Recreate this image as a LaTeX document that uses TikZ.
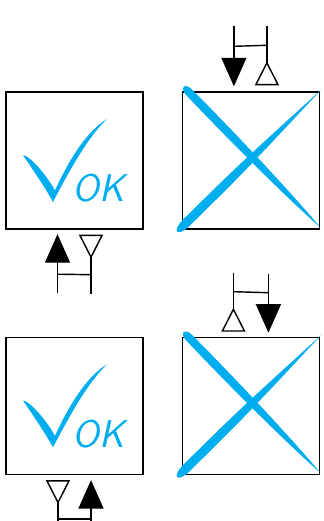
\documentclass[tikz,border=0pt]{standalone}
\usepackage{tikz}
\usetikzlibrary{positioning,arrows.meta}

\definecolor{okblue}{RGB}{0,174,239}

\begin{document}
\begin{tikzpicture}[
	box/.style={draw, line width=0.8pt, minimum size=2.74cm, inner sep=0},
	flow/.style={line width=0.8pt},
	feed/.style={-{Triangle[width=0.5cm,length=0.57cm]}},
	back/.style={-{Triangle[open,reversed,width=0.48cm,length=0.48cm]}},
	oktext/.style={text=okblue, inner sep=0, font=\sffamily\itshape\fontsize{22}{22}\selectfont}]
		
		\useasboundingbox (0,0) rectangle (6.48,-10.42);
		\clip (0,0) rectangle (6.48,-10.42);
		
		% Boxes
		\node[box] (okA) at (1.49,-3.21) {};
		\node[box, right=0.76cm of okA] (crossA) {};
		\node[box, below=2.14cm of okA] (okB) {};
		\node[box, right=0.76cm of okB] (crossB) {};
		
		% Ports
		\coordinate (okA-feed) at ([xshift=-0.34cm,yshift=-0.09cm]okA.south);
		\coordinate (okA-back) at ([xshift=0.33cm,yshift=-0.1cm]okA.south);
		\coordinate (okA-feed0) at ([yshift=-1.18cm]okA-feed);
		\coordinate (okA-back0) at ([yshift=-1.18cm]okA-back);
		
		\coordinate (crossA-feed) at ([xshift=-0.34cm,yshift=0.1cm]crossA.north);
		\coordinate (crossA-back) at ([xshift=0.32cm,yshift=0.12cm]crossA.north);
		\coordinate (crossA-feed0) at ([yshift=1.2cm]crossA-feed);
		\coordinate (crossA-back0) at ([yshift=1.18cm]crossA-back);
		
		\coordinate (okB-back) at ([xshift=-0.33cm,yshift=-0.1cm]okB.south);
		\coordinate (okB-feed) at ([xshift=0.33cm,yshift=-0.1cm]okB.south);
		\coordinate (okB-back0) at ([yshift=-1.18cm]okB-back);
		\coordinate (okB-feed0) at ([yshift=-1.18cm]okB-feed);
		
		\coordinate (crossB-back) at ([xshift=-0.35cm,yshift=0.1cm]crossB.north);
		\coordinate (crossB-feed) at ([xshift=0.35cm,yshift=0.08cm]crossB.north);
		\coordinate (crossB-back0) at ([yshift=1.18cm]crossB-back);
		\coordinate (crossB-feed0) at ([yshift=1.18cm]crossB-feed);
		
		% Lines
		\draw[flow,feed] (okA-feed0) -- (okA-feed);
		\draw[flow,back] (okA-back0) -- (okA-back);
		\draw[flow] ([yshift=0.38cm]okA-feed0) -- ([yshift=0.38cm]okA-back0);
		
		\draw[flow,feed] (crossA-feed0) -- (crossA-feed);
		\draw[flow,back] (crossA-back0) -- (crossA-back);
		\draw[flow] ([yshift=-0.4cm]crossA-feed0) -- ([yshift=-0.38cm]crossA-back0);
		
		\draw[flow,back] (okB-back0) -- (okB-back);
		\draw[flow,feed] (okB-feed0) -- (okB-feed);
		\draw[flow] ([yshift=0.4cm]okB-back0) -- ([yshift=0.4cm]okB-feed0);
		
		\draw[flow,back] (crossB-back0) -- (crossB-back);
		\draw[flow,feed] (crossB-feed0) -- (crossB-feed);
		\draw[flow] ([yshift=-0.38cm]crossB-back0) -- ([yshift=-0.38cm]crossB-feed0);
		
		% Check marks
		\begin{scope}[shift={(okA.center)},x=0.02cm,y=-0.02cm]
		\fill[okblue] (-51.5,-5.5) .. controls (-44.5,-4.4) and (-28.5,13.6) .. (-19.5,30)
		.. controls (-5,-2) and (13,-30) .. (32.5,-41.5)
		.. controls (16,-26) and (-1,2) .. (-21.5,41.5)
		.. controls (-31,24) and (-44,6) .. (-51.5,-5.5) -- cycle;
		\end{scope}
		\node[oktext] (okA-text) at ([xshift=0.48cm,yshift=-0.56cm]okA.center) {OK};
		
		\begin{scope}[shift={(okB.center)},x=0.02cm,y=-0.02cm]
		\fill[okblue] (-51.5,-5.5) .. controls (-44.5,-4.4) and (-28.5,13.6) .. (-19.5,30)
		.. controls (-5,-2) and (13,-30) .. (32.5,-41.5)
		.. controls (16,-26) and (-1,2) .. (-21.5,41.5)
		.. controls (-31,24) and (-44,6) .. (-51.5,-5.5) -- cycle;
		\end{scope}
		\node[oktext] (okB-text) at ([xshift=0.48cm,yshift=-0.56cm]okB.center) {OK};
		
		% Crosses
		\begin{scope}[shift={(crossA.center)},x=0.02cm,y=-0.02cm]
		\fill[okblue] (69.5,67) .. controls (50.74,44.11) and (-2.27,-14.04) .. (-59.03,-71.09)
		.. controls (-66,-78.26) and (-71.74,-72.68) .. (-64.77,-65.51)
		.. controls (-9.44,-7.07) and (47.16,47.59) .. (69.5,67) -- cycle;
		\fill[okblue] (70.5,-71) .. controls (-6.1,10.9) .. (-61.4,65.4)
		.. controls (-73.5,77.3) and (-79.8,70.9) .. (-67.7,59)
		.. controls (-12.4,4.4) .. (70.5,-71) -- cycle;
		\end{scope}
		
		\begin{scope}[shift={(crossB.center)},x=0.02cm,y=-0.02cm]
		\fill[okblue] (69.5,67) .. controls (50.74,44.11) and (-2.27,-14.04) .. (-59.03,-71.09)
		.. controls (-66,-78.26) and (-71.74,-72.68) .. (-64.77,-65.51)
		.. controls (-9.44,-7.07) and (47.16,47.59) .. (69.5,67) -- cycle;
		\fill[okblue] (70.5,-71) .. controls (-6.1,10.9) .. (-61.4,65.4)
		.. controls (-73.5,77.3) and (-79.8,70.9) .. (-67.7,59)
		.. controls (-12.4,4.4) .. (70.5,-71) -- cycle;
		\end{scope}
		
\end{tikzpicture}
\end{document}
